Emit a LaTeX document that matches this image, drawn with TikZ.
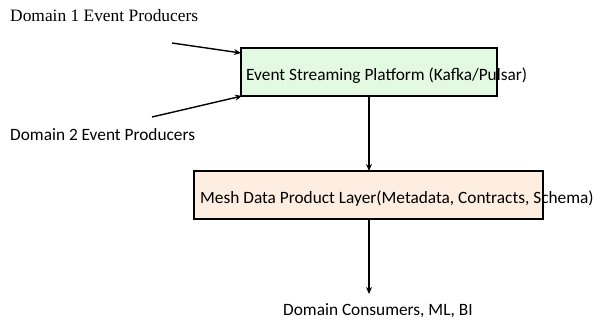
\documentclass[tikz,border=0pt]{standalone}
\usepackage{fontspec}
\setmainfont{Carlito}
\newfontfamily\serifface{Liberation Serif}
\usetikzlibrary{arrows.meta}
\definecolor{streamfill}{HTML}{E3F9E1}
\definecolor{meshfill}{HTML}{FDEEE1}
\begin{document}
\begin{tikzpicture}[x=1pt,y=-1pt,
  layerbox/.style={draw=black, line width=1.6pt},
  flow/.style={line width=1.4pt, -{Stealth[length=7pt,width=6pt]}},
  lbl/.style={inner sep=0pt, anchor=west, font=\fontsize{17.3}{20}\selectfont},
  slbl/.style={inner sep=0pt, anchor=west, font=\serifface\fontsize{17.4}{20}\selectfont}]
\useasboundingbox (0,0) rectangle (596,322);

% streaming platform box
\path[layerbox, fill=streamfill] (241,48) rectangle (497,96);
\coordinate (sin1) at (241,53);
\coordinate (sin2) at (242,96);
\coordinate (sout) at (369,96);
\node[lbl] (stream) at (246,76) {Event Streaming Platform (Kafka/Pulsar)};

% mesh layer box
\path[layerbox, fill=meshfill] (194,171) rectangle (543,219);
\coordinate (min) at (369,171);
\coordinate (mout) at (369,219);
\node[lbl] (mesh) at (200,199) {Mesh Data Product Layer(Metadata, Contracts, Schema)};

% producers and consumers
\node[slbl] (dom1) at (10,16) {Domain 1 Event Producers};
\node[lbl] (dom2) at (10,135) {Domain 2 Event Producers};
\node[lbl] (cons) at (283,311) {Domain Consumers, ML, BI};
\coordinate (p1) at (172,43);
\coordinate (p2) at (152,117);
\coordinate (cend) at (369,294);

\draw[flow] (p1) -- (sin1);
\draw[flow] (p2) -- (sin2);
\draw[flow] (sout) -- (min);
\draw[flow] (mout) -- (cend);
\end{tikzpicture}
\end{document}
